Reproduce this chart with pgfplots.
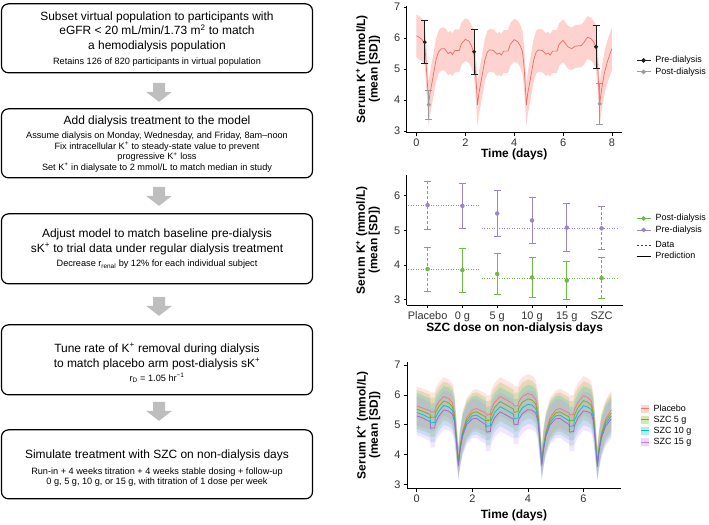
\documentclass[border=0pt]{standalone}
\usepackage{pgfplots}
\pgfplotsset{compat=1.18}
\usepgfplotslibrary{fillbetween}
\usepackage{pgfplotstable}
\usepackage{fontspec}
\setmainfont{Liberation Sans}

\definecolor{tred}{RGB}{236,110,100}
\definecolor{tband}{RGB}{248,118,109}
\definecolor{pre}{RGB}{30,30,30}
\definecolor{post}{RGB}{155,155,155}
\definecolor{mgrn}{RGB}{110,186,70}
\definecolor{mpur}{RGB}{156,132,200}
\definecolor{cpl}{RGB}{248,118,109}
\definecolor{cfive}{RGB}{124,174,0}
\definecolor{cten}{RGB}{0,191,196}
\definecolor{cfif}{RGB}{199,124,255}
\definecolor{arr}{RGB}{190,190,190}

\newcommand{\fbig}{\fontsize{12}{14}\selectfont}
\newcommand{\fsm}{\fontsize{9.2}{10.7}\selectfont}

\pgfplotstableread{
t m lo hi
0 6.08 5.38 6.76
0.1 6.03 5.33 6.71
0.2 5.97 5.27 6.65
0.3 5.88 5.18 6.56
0.34 5.82 5.12 6.50
0.4 5.10 4.40 5.78
0.45 4.50 3.80 5.18
0.5 3.88 3.18 4.56
0.55 4.20 3.50 4.88
0.62 4.50 3.80 5.18
0.7 4.85 4.15 5.53
0.8 5.30 4.60 5.98
0.9 5.55 4.85 6.23
1.0 5.65 4.95 6.33
1.15 5.66 4.96 6.34
1.3 5.50 4.80 6.18
1.4 5.55 4.85 6.23
1.47 5.47 4.77 6.15
1.57 5.60 4.90 6.28
1.75 5.60 4.90 6.28
1.84 5.82 5.12 6.50
2.0 5.96 5.26 6.64
2.15 5.90 5.20 6.58
2.25 5.75 5.05 6.43
2.34 5.55 4.85 6.23
2.4 5.10 4.40 5.78
2.45 4.50 3.80 5.18
2.5 3.85 3.15 4.53
2.55 4.20 3.50 4.88
2.62 4.50 3.80 5.18
2.7 4.85 4.15 5.53
2.8 5.30 4.60 5.98
2.9 5.55 4.85 6.23
3.0 5.62 4.92 6.30
3.15 5.60 4.90 6.28
3.3 5.48 4.78 6.16
3.4 5.52 4.82 6.20
3.47 5.45 4.75 6.13
3.57 5.58 4.88 6.26
3.75 5.58 4.88 6.26
3.84 5.80 5.10 6.48
4.0 5.95 5.25 6.63
4.15 5.88 5.18 6.56
4.25 5.75 5.05 6.43
4.34 5.55 4.85 6.23
4.4 5.10 4.40 5.78
4.45 4.50 3.80 5.18
4.5 3.85 3.15 4.53
4.55 4.20 3.50 4.88
4.62 4.50 3.80 5.18
4.7 4.85 4.15 5.53
4.8 5.30 4.60 5.98
4.9 5.55 4.85 6.23
5.0 5.62 4.92 6.30
5.15 5.60 4.90 6.28
5.3 5.48 4.78 6.16
5.4 5.52 4.82 6.20
5.47 5.45 4.75 6.13
5.57 5.58 4.88 6.26
5.75 5.58 4.88 6.26
5.84 5.80 5.10 6.48
6.0 5.93 5.23 6.61
6.2 5.72 5.02 6.40
6.35 5.66 4.96 6.34
6.5 5.74 5.04 6.42
6.75 5.76 5.06 6.44
6.85 5.85 5.15 6.53
7.0 6.03 5.33 6.71
7.15 5.98 5.28 6.66
7.25 5.88 5.18 6.56
7.35 5.71 5.01 6.39
7.42 5.00 4.30 5.68
7.46 4.40 3.70 5.08
7.5 3.88 3.18 4.56
7.55 4.20 3.50 4.88
7.62 4.55 3.85 5.23
7.7 4.90 4.20 5.58
7.8 5.20 4.50 5.88
7.9 5.45 4.75 6.13
8.0 5.66 4.96 6.34
}\topdata

\pgfplotstableread{
t p a b c pl ph al ah bl bh cl ch
0.00 5.63 5.52 5.41 5.30 4.98 6.28 4.87 6.17 4.76 6.06 4.65 5.95
0.20 5.57 5.46 5.35 5.24 4.92 6.22 4.81 6.11 4.70 6.00 4.59 5.89
0.40 5.50 5.38 5.26 5.14 4.85 6.15 4.73 6.03 4.61 5.91 4.49 5.79
0.48 5.48 5.36 5.24 5.12 4.83 6.13 4.71 6.01 4.59 5.89 4.47 5.77
0.50 5.43 5.25 5.07 4.89 4.78 6.08 4.60 5.90 4.42 5.72 4.24 5.54
0.65 5.44 5.26 5.08 4.90 4.79 6.09 4.61 5.91 4.43 5.73 4.25 5.55
0.67 5.58 5.41 5.24 5.07 4.93 6.23 4.76 6.06 4.59 5.89 4.42 5.72
0.80 5.78 5.62 5.46 5.30 5.13 6.43 4.97 6.27 4.81 6.11 4.65 5.95
0.97 5.95 5.80 5.65 5.50 5.30 6.60 5.15 6.45 5.00 6.30 4.85 6.15
1.15 5.88 5.74 5.60 5.46 5.23 6.53 5.09 6.39 4.95 6.25 4.81 6.11
1.28 5.75 5.62 5.49 5.36 5.10 6.40 4.97 6.27 4.84 6.14 4.71 6.01
1.36 5.40 5.30 5.20 5.10 4.75 6.05 4.65 5.95 4.55 5.85 4.45 5.75
1.42 4.70 4.63 4.56 4.49 4.10 5.30 4.03 5.23 3.96 5.16 3.89 5.09
1.50 3.78 3.73 3.68 3.63 3.28 4.28 3.23 4.23 3.18 4.18 3.13 4.13
1.56 4.30 4.25 4.20 4.15 3.70 4.90 3.65 4.85 3.60 4.80 3.55 4.75
1.65 4.80 4.74 4.68 4.62 4.15 5.45 4.09 5.39 4.03 5.33 3.97 5.27
1.80 5.25 5.17 5.09 5.01 4.60 5.90 4.52 5.82 4.44 5.74 4.36 5.66
2.00 5.50 5.40 5.30 5.20 4.85 6.15 4.75 6.05 4.65 5.95 4.55 5.85
2.15 5.55 5.44 5.33 5.22 4.90 6.20 4.79 6.09 4.68 5.98 4.57 5.87
2.30 5.48 5.36 5.24 5.12 4.83 6.13 4.71 6.01 4.59 5.89 4.47 5.77
2.48 5.40 5.27 5.14 5.01 4.75 6.05 4.62 5.92 4.49 5.79 4.36 5.66
2.50 5.33 5.14 4.95 4.76 4.68 5.98 4.49 5.79 4.30 5.60 4.11 5.41
2.65 5.35 5.16 4.97 4.78 4.70 6.00 4.51 5.81 4.32 5.62 4.13 5.43
2.67 5.50 5.32 5.14 4.96 4.85 6.15 4.67 5.97 4.49 5.79 4.31 5.61
2.80 5.75 5.58 5.41 5.24 5.10 6.40 4.93 6.23 4.76 6.06 4.59 5.89
3.00 5.95 5.78 5.61 5.44 5.30 6.60 5.13 6.43 4.96 6.26 4.79 6.09
3.20 5.85 5.68 5.51 5.34 5.20 6.50 5.03 6.33 4.86 6.16 4.69 5.99
3.48 5.70 5.53 5.36 5.19 5.05 6.35 4.88 6.18 4.71 6.01 4.54 5.84
3.50 5.63 5.42 5.21 5.00 4.98 6.28 4.77 6.07 4.56 5.86 4.35 5.65
3.65 5.65 5.44 5.23 5.02 5.00 6.30 4.79 6.09 4.58 5.88 4.37 5.67
3.67 5.78 5.58 5.38 5.18 5.13 6.43 4.93 6.23 4.73 6.03 4.53 5.83
3.80 5.95 5.76 5.57 5.38 5.30 6.60 5.11 6.41 4.92 6.22 4.73 6.03
4.00 6.05 5.87 5.69 5.51 5.40 6.70 5.22 6.52 5.04 6.34 4.86 6.16
4.15 6.00 5.83 5.66 5.49 5.35 6.65 5.18 6.48 5.01 6.31 4.84 6.14
4.28 5.85 5.70 5.55 5.40 5.20 6.50 5.05 6.35 4.90 6.20 4.75 6.05
4.36 5.45 5.34 5.23 5.12 4.80 6.10 4.69 5.99 4.58 5.88 4.47 5.77
4.42 4.75 4.67 4.59 4.51 4.15 5.35 4.07 5.27 3.99 5.19 3.91 5.11
4.50 3.78 3.73 3.68 3.63 3.28 4.28 3.23 4.23 3.18 4.18 3.13 4.13
4.56 4.30 4.25 4.20 4.15 3.70 4.90 3.65 4.85 3.60 4.80 3.55 4.75
4.65 4.80 4.74 4.68 4.62 4.15 5.45 4.09 5.39 4.03 5.33 3.97 5.27
4.80 5.25 5.17 5.09 5.01 4.60 5.90 4.52 5.82 4.44 5.74 4.36 5.66
5.00 5.50 5.40 5.30 5.20 4.85 6.15 4.75 6.05 4.65 5.95 4.55 5.85
5.15 5.55 5.44 5.33 5.22 4.90 6.20 4.79 6.09 4.68 5.98 4.57 5.87
5.30 5.48 5.36 5.24 5.12 4.83 6.13 4.71 6.01 4.59 5.89 4.47 5.77
5.48 5.40 5.27 5.14 5.01 4.75 6.05 4.62 5.92 4.49 5.79 4.36 5.66
5.50 5.33 5.14 4.95 4.76 4.68 5.98 4.49 5.79 4.30 5.60 4.11 5.41
5.65 5.35 5.16 4.97 4.78 4.70 6.00 4.51 5.81 4.32 5.62 4.13 5.43
5.67 5.50 5.32 5.14 4.96 4.85 6.15 4.67 5.97 4.49 5.79 4.31 5.61
5.80 5.75 5.58 5.41 5.24 5.10 6.40 4.93 6.23 4.76 6.06 4.59 5.89
6.00 5.98 5.81 5.64 5.47 5.33 6.63 5.16 6.46 4.99 6.29 4.82 6.12
6.15 5.92 5.76 5.60 5.44 5.27 6.57 5.11 6.41 4.95 6.25 4.79 6.09
6.28 5.80 5.66 5.52 5.38 5.15 6.45 5.01 6.31 4.87 6.17 4.73 6.03
6.36 5.40 5.30 5.20 5.10 4.75 6.05 4.65 5.95 4.55 5.85 4.45 5.75
6.42 4.70 4.63 4.56 4.49 4.10 5.30 4.03 5.23 3.96 5.16 3.89 5.09
6.50 3.75 3.70 3.65 3.60 3.25 4.25 3.20 4.20 3.15 4.15 3.10 4.10
6.56 4.25 4.20 4.15 4.10 3.65 4.85 3.60 4.80 3.55 4.75 3.50 4.70
6.65 4.75 4.69 4.63 4.57 4.10 5.40 4.04 5.34 3.98 5.28 3.92 5.22
6.80 5.20 5.12 5.04 4.96 4.55 5.85 4.47 5.77 4.39 5.69 4.31 5.61
7.00 5.50 5.40 5.30 5.20 4.85 6.15 4.75 6.05 4.65 5.95 4.55 5.85
}\botdata

\pgfplotsset{
  ggp/.style={
    scale only axis,
    axis x line*=bottom, axis y line*=left,
    axis line style={line width=0.9bp,-},
    tick align=outside, major tick length=3bp,
    tick style={line width=0.8bp, black},
    tick label style={font=\fontsize{11}{12}\selectfont, text=black!80},
    label style={font=\bfseries\fontsize{12}{12.5}\selectfont},
    /pgf/number format/assume math mode=true,
    ylabel={Serum K\textsuperscript{+} (mmol/L)\\(mean [SD])},
    ylabel style={align=center, anchor=center, at={(axis description cs:-0.18,0.5)}},
    legend cell align=left,
    legend style={draw=none, fill=none, inner sep=0pt, anchor=north west,
      font=\fontsize{9}{10}\selectfont, column sep=3bp, row sep=0bp,
      nodes={inner sep=1.5bp, text height=6.5bp, text depth=2bp}},
    legend image code/.code={\draw[mark repeat=2,mark phase=2,##1] plot coordinates {(0bp,0bp) (7bp,0bp) (14bp,0bp)};},
  }
}

\begin{document}
\begin{tikzpicture}
\path (0,0) rectangle (709bp,-520bp);

% ---------------- flowchart ----------------
\begin{scope}[x=1bp,y=1bp]
\foreach \a/\b in {2/71,107/176,212/282,323/393,428/497}
  \draw[line width=1.2bp, rounded corners=7bp] (1.5,-\a) rectangle (312.5,-\b);
\foreach \a in {81,185,295,400}
  \fill[arr] (153,-\a) -- (165,-\a) -- (165,-\a-9) -- (172,-\a-9) -- (159,-\a-19) -- (146,-\a-9) -- (153,-\a-9) -- cycle;

\node[anchor=base, font=\fbig, inner sep=0] at (157,-18.5) {Subset virtual population to participants with};
\node[anchor=base, font=\fbig, inner sep=0] at (157,-32.8) {eGFR < 20 mL/min/1.73 m\textsuperscript{2} to match};
\node[anchor=base, font=\fbig, inner sep=0] at (157,-47.2) {a hemodialysis population};
\node[anchor=base, font=\fsm, inner sep=0] at (157,-62.5) {Retains 126 of 820 participants in virtual population};

\node[anchor=base, font=\fbig, inner sep=0] at (157,-122.5) {Add dialysis treatment to the model};
\node[anchor=base, font=\fsm, inner sep=0] at (157,-136.5) {Assume dialysis on Monday, Wednesday, and Friday, 8am--noon};
\node[anchor=base, font=\fsm, inner sep=0] at (157,-147.3) {Fix intracellular K\textsuperscript{+} to steady-state value to prevent};
\node[anchor=base, font=\fsm, inner sep=0] at (157,-158) {progressive K\textsuperscript{+} loss};
\node[anchor=base, font=\fsm, inner sep=0] at (157,-168.3) {Set K\textsuperscript{+} in dialysate to 2 mmol/L to match median in study};

\node[anchor=base, font=\fbig, inner sep=0] at (157,-235.9) {Adjust model to match baseline pre-dialysis};
\node[anchor=base, font=\fbig, inner sep=0] at (157,-250.2) {sK\textsuperscript{+} to trial data under regular dialysis treatment};
\node[anchor=base, font=\fsm, inner sep=0] at (157,-264.9) {Decrease r\textsubscript{renal} by 12\% for each individual subject};

\node[anchor=base, font=\fbig, inner sep=0] at (157,-350.2) {Tune rate of K\textsuperscript{+} removal during dialysis};
\node[anchor=base, font=\fbig, inner sep=0] at (157,-365.2) {to match placebo arm post-dialysis sK\textsuperscript{+}};
\node[anchor=base, font=\fsm, inner sep=0] at (157,-379.2) {r\textsubscript{D} = 1.05 hr\textsuperscript{−1}};

\node[anchor=base, font=\fbig, inner sep=0] at (157,-456.9) {Simulate treatment with SZC on non-dialysis days};
\node[anchor=base, font=\fsm, inner sep=0] at (157,-472.5) {Run-in + 4 weeks titration + 4 weeks stable dosing + follow-up};
\node[anchor=base, font=\fsm, inner sep=0] at (157,-482.5) {0 g, 5 g, 10 g, or 15 g, with titration of 1 dose per week};
\end{scope}

% ---------------- top plot ----------------
\begin{axis}[ggp, at={(406.7bp,-130.8bp)}, anchor=south west,
  width=215bp, height=127.1bp,
  xmin=-0.4, xmax=8.4, ymin=2.95, ymax=7.05,
  xtick={0,2,4,6,8}, ytick={3,4,5,6,7},
  xlabel={Time (days)},
  xlabel style={at={(axis description cs:0.5,-0.171)}, anchor=center},
  legend style={at={(axis description cs:1.066,0.615)}}]
\addlegendimage{pre, mark=*, mark size=1.8bp, line width=0.9bp}\addlegendentry{Pre-dialysis}
\addlegendimage{post, mark=*, mark size=1.8bp, line width=0.9bp}\addlegendentry{Post-dialysis}
\addplot[name path=tlo, draw=none, forget plot] table[x=t,y=lo]{\topdata};
\addplot[name path=thi, draw=none, forget plot] table[x=t,y=hi]{\topdata};
\addplot[fill=tband, fill opacity=0.33, draw=none, forget plot] fill between[of=tlo and thi];
\addplot[tred, line width=0.7bp, forget plot] table[x=t,y=m]{\topdata};
\addplot[forget plot, only marks, mark=*, mark size=1.8bp, color=pre,
  error bars/.cd, y dir=both, y explicit, error bar style={line width=0.8bp, color=pre},
  error mark options={rotate=90, mark size=3.5bp, line width=0.8bp}]
  coordinates {(0.34,5.87) +- (0,0.69) (2.36,5.56) +- (0,0.72) (7.35,5.72) +- (0,0.69)};
\addplot[forget plot, only marks, mark=*, mark size=1.8bp, color=post,
  error bars/.cd, y dir=both, y explicit, error bar style={line width=0.8bp, color=post},
  error mark options={rotate=90, mark size=3.5bp, line width=0.8bp}]
  coordinates {(0.5,3.85) +- (0,0.47) (7.5,3.88) +- (0,0.65)};
\end{axis}

% ---------------- middle plot ----------------
\begin{axis}[ggp, at={(406.7bp,-303.2bp)}, anchor=south west,
  width=215.8bp, height=129.6bp,
  xmin=0.4, xmax=6.6, ymin=2.84, ymax=6.59,
  xtick={1,2,3,4,5,6}, xticklabels={Placebo,0 g,5 g,10 g,15 g,SZC},
  ytick={3,4,5,6},
  xlabel={SZC dose on non-dialysis days},
  xlabel style={at={(axis description cs:0.5,-0.181)}, anchor=center},
  legend style={at={(axis description cs:1.0626,0.714)}}]
\addlegendimage{mgrn, mark=*, mark size=1.8bp, line width=0.9bp}\addlegendentry{Post-dialysis}
\addlegendimage{mpur, mark=*, mark size=1.8bp, line width=0.9bp}\addlegendentry{Pre-dialysis}
\addplot[forget plot, mpur, line width=0.8bp, dash pattern=on 1bp off 1.5bp] coordinates {(0.45,5.73) (2.5,5.73)};
\addplot[forget plot, mpur, line width=0.8bp, dash pattern=on 1bp off 1.5bp] coordinates {(2.55,5.07) (6.5,5.07)};
\addplot[forget plot, mgrn, line width=0.8bp, dash pattern=on 1bp off 1.5bp] coordinates {(0.45,3.88) (2.5,3.88)};
\addplot[forget plot, mgrn, line width=0.8bp, dash pattern=on 1bp off 1.5bp] coordinates {(2.55,3.62) (6.5,3.62)};
% observed data: dashed bars
\addplot[forget plot, mpur, line width=0.9bp, dash pattern=on 3bp off 2bp] coordinates {(1,5.04) (1,6.42)};
\addplot[forget plot, mpur, line width=0.9bp, dash pattern=on 3bp off 2bp] coordinates {(6,4.44) (6,5.68)};
\addplot[forget plot, mgrn, line width=0.9bp, dash pattern=on 3bp off 2bp] coordinates {(1,3.24) (1,4.52)};
\addplot[forget plot, mgrn, line width=0.9bp, dash pattern=on 3bp off 2bp] coordinates {(6,3.03) (6,4.21)};
\addplot[forget plot, only marks, mpur, mark=-, mark size=3.5bp, mark options={line width=0.9bp, solid}] coordinates {(1,5.04) (1,6.42) (6,4.44) (6,5.68)};
\addplot[forget plot, only marks, mgrn, mark=-, mark size=3.5bp, mark options={line width=0.9bp, solid}] coordinates {(1,3.24) (1,4.52) (6,3.03) (6,4.21)};
\addplot[forget plot, only marks, mpur, mark=*, mark size=2bp] coordinates {(1,5.73) (6,5.06)};
\addplot[forget plot, only marks, mgrn, mark=*, mark size=2bp] coordinates {(1,3.88) (6,3.62)};
% predictions: solid bars
\addplot[forget plot, only marks, mark=*, mark size=2bp, color=mpur,
  error bars/.cd, y dir=both, y explicit, error bar style={line width=0.9bp, color=mpur},
  error mark options={rotate=90, mark size=3.5bp, line width=0.9bp, color=mpur}]
  coordinates {(2,5.71) +- (0,0.66) (3,5.49) +- (0,0.66) (4,5.29) +- (0,0.67) (5,5.08) +- (0,0.70)};
\addplot[forget plot, only marks, mark=*, mark size=2bp, color=mgrn,
  error bars/.cd, y dir=both, y explicit, error bar style={line width=0.9bp, color=mgrn},
  error mark options={rotate=90, mark size=3.5bp, line width=0.9bp, color=mgrn}]
  coordinates {(2,3.85) +- (0,0.64) (3,3.74) +- (0,0.60) (4,3.64) +- (0,0.57) (5,3.55) +- (0,0.54)};
\end{axis}

\begin{axis}[at={(406.7bp,-303.2bp)}, anchor=south west, scale only axis,
  width=215.8bp, height=129.6bp, hide axis,
  xmin=0, xmax=1, ymin=0, ymax=1,
  legend cell align=left,
  legend style={draw=none, fill=none, inner sep=0pt, anchor=north west,
    at={(axis description cs:1.0626,0.503)},
    font=\fontsize{9}{10}\selectfont, column sep=3bp, row sep=0bp,
    nodes={inner sep=1.3bp, text height=6.5bp, text depth=2bp}},
  legend image code/.code={\draw[#1] (0bp,0bp) -- (14bp,0bp);}]
\addlegendimage{black!75, line width=0.9bp, dash pattern=on 2.5bp off 1.5bp}\addlegendentry{Data}
\addlegendimage{black, line width=0.9bp}\addlegendentry{Prediction}
\addplot[draw=none, forget plot] coordinates {(0,0) (1,1)};
\end{axis}

% ---------------- bottom plot ----------------
\begin{axis}[ggp, at={(407bp,-486.7bp)}, anchor=south west,
  width=214bp, height=126.7bp,
  xmin=-0.35, xmax=7.35, ymin=2.87, ymax=7.11,
  xtick={0,2,4,6}, ytick={3,4,5,6,7},
  xlabel={Time (days)},
  xlabel style={at={(axis description cs:0.5,-0.21)}, anchor=center},
  legend style={at={(axis description cs:1.089,0.675)},
    nodes={inner sep=1.3bp, text height=6.5bp, text depth=2bp}},
  legend image code/.code={\fill[#1, fill opacity=0.3, draw=none] (0bp,-4bp) rectangle (8bp,4bp); \draw[#1, line width=1bp] (0bp,0bp) -- (8bp,0bp);}]
\addlegendimage{cpl}\addlegendentry{Placebo}
\addlegendimage{cfive}\addlegendentry{SZC 5 g}
\addlegendimage{cten}\addlegendentry{SZC 10 g}
\addlegendimage{cfif}\addlegendentry{SZC 15 g}
\addplot[name path=plo, draw=none, forget plot] table[x=t,y=pl]{\botdata};
\addplot[name path=phi, draw=none, forget plot] table[x=t,y=ph]{\botdata};
\addplot[name path=alo, draw=none, forget plot] table[x=t,y=al]{\botdata};
\addplot[name path=ahi, draw=none, forget plot] table[x=t,y=ah]{\botdata};
\addplot[name path=blo, draw=none, forget plot] table[x=t,y=bl]{\botdata};
\addplot[name path=bhi, draw=none, forget plot] table[x=t,y=bh]{\botdata};
\addplot[name path=clo, draw=none, forget plot] table[x=t,y=cl]{\botdata};
\addplot[name path=chi, draw=none, forget plot] table[x=t,y=ch]{\botdata};
\addplot[fill=cpl, fill opacity=0.2, draw=none, forget plot] fill between[of=plo and phi];
\addplot[fill=cfive, fill opacity=0.2, draw=none, forget plot] fill between[of=alo and ahi];
\addplot[fill=cten, fill opacity=0.2, draw=none, forget plot] fill between[of=blo and bhi];
\addplot[fill=cfif, fill opacity=0.2, draw=none, forget plot] fill between[of=clo and chi];
\addplot[cpl, line width=0.8bp, draw opacity=0.9, forget plot] table[x=t,y=p]{\botdata};
\addplot[cfive, line width=0.8bp, draw opacity=0.9, forget plot] table[x=t,y=a]{\botdata};
\addplot[cten, line width=0.8bp, draw opacity=0.9, forget plot] table[x=t,y=b]{\botdata};
\addplot[cfif!80!black, line width=0.8bp, draw opacity=0.9, forget plot] table[x=t,y=c]{\botdata};
\end{axis}
\end{tikzpicture}
\end{document}
